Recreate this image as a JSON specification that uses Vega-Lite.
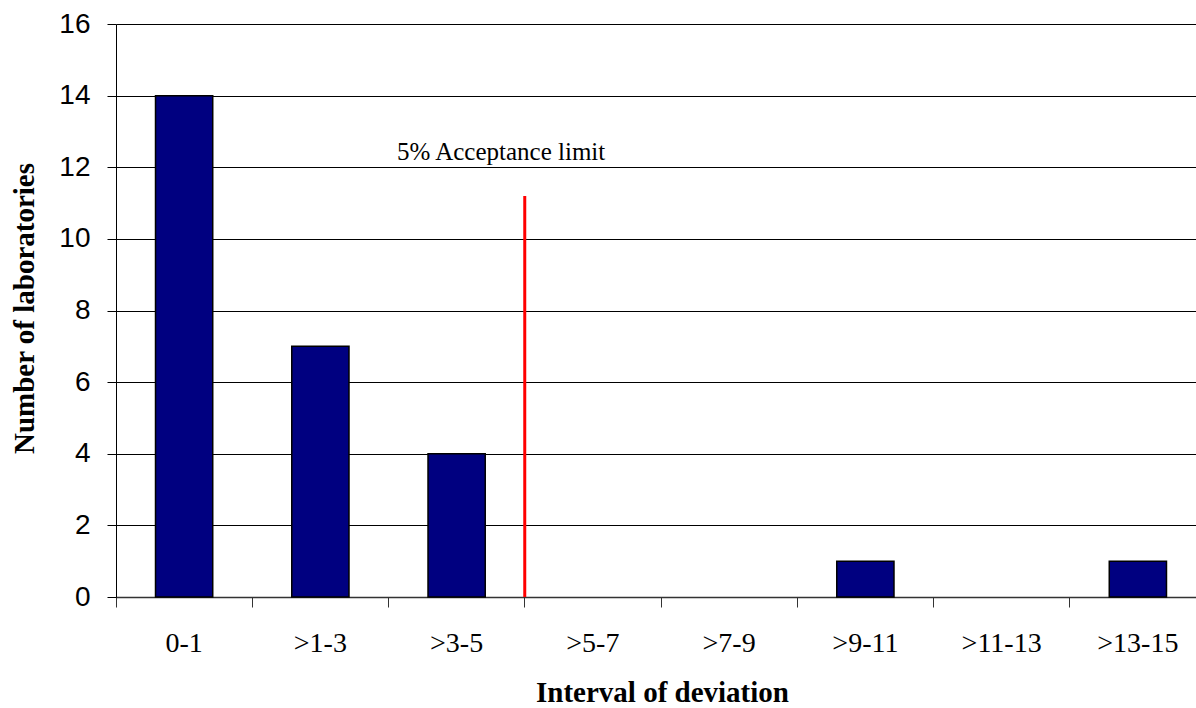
{
  "$schema": "https://vega.github.io/schema/vega-lite/v6.json",
  "autosize": {"type": "none"},
  "padding": {"left": 116, "top": 24, "right": 0, "bottom": 111},
  "width": 1080,
  "height": 573,
  "config": {"view": {"stroke": null}, "background": "white"},
  "layer": [
    {
      "data": {"values": [
        {"interval": "0-1", "count": 14},
        {"interval": ">1-3", "count": 7},
        {"interval": ">3-5", "count": 4},
        {"interval": ">5-7", "count": 0},
        {"interval": ">7-9", "count": 0},
        {"interval": ">9-11", "count": 1},
        {"interval": ">11-13", "count": 0},
        {"interval": ">13-15", "count": 1}
      ]},
      "mark": {"type": "bar", "width": {"band": 0.42}, "fill": "#000080", "stroke": "#000", "strokeWidth": 1.5},
      "encoding": {
        "x": {
          "field": "interval", "type": "nominal", "sort": null,
          "scale": {"domain": ["0-1", ">1-3", ">3-5", ">5-7", ">7-9", ">9-11", ">11-13", ">13-15"], "paddingInner": 0, "paddingOuter": 0, "range": [0, 1090]},
          "axis": {
            "title": "Interval of deviation",
            "titleFont": "Liberation Serif", "titleFontSize": 29, "titleFontWeight": "bold", "titleColor": "#000",
            "titleBaseline": "alphabetic", "titleY": 104, "titleX": 546,
            "labelFont": "Liberation Serif", "labelFontSize": 28, "labelColor": "#000", "labelAngle": 0,
            "labelPadding": 22,
            "bandPosition": 0,
            "tickSize": 10, "tickColor": "#333", "tickWidth": 1,
            "domainColor": "#333", "domainWidth": 1.5,
            "grid": false
          }
        },
        "y": {
          "field": "count", "type": "quantitative",
          "scale": {"domain": [0, 16], "nice": false},
          "axis": {
            "title": "Number of laboratories",
            "titleFont": "Liberation Serif", "titleFontSize": 29, "titleFontWeight": "bold", "titleColor": "#000",
            "titleBaseline": "alphabetic", "titleX": -83, "titleY": 284, "titleAngle": 270,
            "values": [0, 2, 4, 6, 8, 10, 12, 14, 16],
            "labelFont": "Liberation Sans", "labelFontSize": 28, "labelColor": "#000",
            "labelPadding": 17,
            "tickSize": 9, "tickColor": "#000",
            "domainColor": "#000", "domainWidth": 1,
            "grid": true, "gridColor": "#000", "gridWidth": 1
          }
        },
        "strokeOpacity": {"condition": {"test": "datum.count > 0", "value": 1}, "value": 0}
      }
    },
    {
      "data": {"values": [{"interval": ">5-7", "base": 0, "limit": 11.2}]},
      "mark": {"type": "rule", "color": "#ff0000", "strokeWidth": 3},
      "encoding": {
        "x": {"field": "interval", "type": "nominal", "bandPosition": 0},
        "y": {"field": "base", "type": "quantitative"},
        "y2": {"field": "limit"}
      }
    },
    {
      "data": {"values": [{"interval": ">3-5", "pos": 12.2, "label": "5% Acceptance limit"}]},
      "mark": {"type": "text", "align": "left", "baseline": "alphabetic", "dx": 8.5, "font": "Liberation Serif", "fontSize": 25, "color": "#000"},
      "encoding": {
        "x": {"field": "interval", "type": "nominal", "bandPosition": 0},
        "y": {"field": "pos", "type": "quantitative"},
        "text": {"field": "label"}
      }
    }
  ]
}
